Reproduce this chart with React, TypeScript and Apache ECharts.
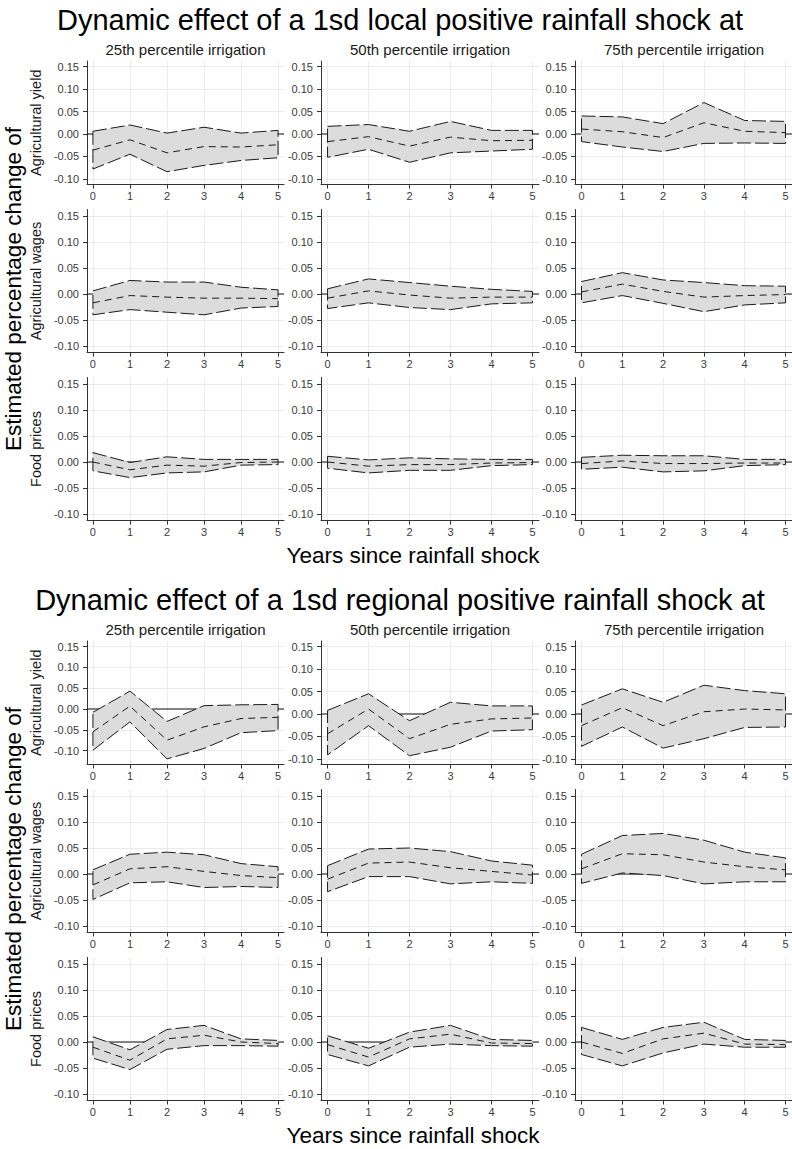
import React, { useEffect, useRef } from "react";
import * as echarts from "echarts";

// ---------- categories / labels ----------
const years = [0, 1, 2, 3, 4, 5];
const yTickValues = [-0.1, -0.05, 0, 0.05, 0.1, 0.15];
const percentiles = ["25th percentile irrigation", "50th percentile irrigation", "75th percentile irrigation"];
const outcomes = ["Agricultural yield", "Agricultural wages", "Food prices"];
const sectionTitles = [
  "Dynamic effect of a 1sd local positive rainfall shock at",
  "Dynamic effect of a 1sd regional positive rainfall shock at",
];
const yAxisTitle = "Estimated percentage change of";
const xAxisTitle = "Years since rainfall shock";

// ---------- values: one row per year, [lower bound, estimate, upper bound] ----------
const localYield25 = [[-0.078, -0.036, 0.006], [-0.045, -0.013, 0.020], [-0.084, -0.042, 0.002], [-0.070, -0.028, 0.015], [-0.059, -0.029, 0.002], [-0.053, -0.024, 0.008]];
const localYield50 = [[-0.052, -0.017, 0.017], [-0.034, -0.006, 0.021], [-0.063, -0.027, 0.006], [-0.042, -0.007, 0.028], [-0.038, -0.015, 0.008], [-0.034, -0.014, 0.008]];
const localYield75 = [[-0.017, 0.011, 0.040], [-0.029, 0.005, 0.038], [-0.039, -0.008, 0.023], [-0.021, 0.025, 0.070], [-0.020, 0.006, 0.030], [-0.021, 0.003, 0.028]];
const localWages25 = [[-0.040, -0.017, 0.006], [-0.030, -0.003, 0.026], [-0.035, -0.006, 0.023], [-0.040, -0.008, 0.023], [-0.027, -0.008, 0.013], [-0.024, -0.009, 0.008]];
const localWages50 = [[-0.028, -0.008, 0.010], [-0.017, 0.006, 0.029], [-0.026, -0.002, 0.022], [-0.030, -0.008, 0.015], [-0.019, -0.006, 0.009], [-0.017, -0.006, 0.005]];
const localWages75 = [[-0.017, 0.004, 0.024], [-0.003, 0.019, 0.041], [-0.018, 0.005, 0.027], [-0.034, -0.006, 0.022], [-0.021, -0.003, 0.016], [-0.017, -0.001, 0.015]];
const localFood25 = [[-0.017, 0.000, 0.018], [-0.030, -0.015, -0.001], [-0.021, -0.006, 0.010], [-0.019, -0.008, 0.005], [-0.006, -0.001, 0.005], [-0.005, 0.000, 0.005]];
const localFood50 = [[-0.012, 0.000, 0.011], [-0.021, -0.008, 0.004], [-0.016, -0.005, 0.008], [-0.016, -0.005, 0.006], [-0.007, -0.002, 0.005], [-0.005, -0.001, 0.005]];
const localFood75 = [[-0.014, -0.003, 0.009], [-0.010, 0.002, 0.013], [-0.019, -0.003, 0.012], [-0.017, -0.003, 0.012], [-0.007, -0.002, 0.005], [-0.005, -0.002, 0.005]];

const regionalYield25 = [[-0.099, -0.055, -0.008], [-0.031, 0.007, 0.043], [-0.120, -0.075, -0.030], [-0.095, -0.043, 0.008], [-0.057, -0.023, 0.010], [-0.052, -0.020, 0.011]];
const regionalYield50 = [[-0.091, -0.044, 0.008], [-0.026, 0.011, 0.045], [-0.093, -0.055, -0.015], [-0.074, -0.023, 0.026], [-0.038, -0.011, 0.018], [-0.035, -0.009, 0.018]];
const regionalYield75 = [[-0.072, -0.026, 0.020], [-0.029, 0.014, 0.056], [-0.076, -0.026, 0.026], [-0.055, 0.005, 0.064], [-0.030, 0.011, 0.052], [-0.029, 0.009, 0.045]];
const regionalWages25 = [[-0.049, -0.021, 0.008], [-0.017, 0.010, 0.038], [-0.015, 0.014, 0.042], [-0.026, 0.005, 0.037], [-0.024, -0.003, 0.020], [-0.026, -0.007, 0.014]];
const regionalWages50 = [[-0.034, -0.010, 0.016], [-0.005, 0.021, 0.048], [-0.005, 0.023, 0.050], [-0.019, 0.012, 0.043], [-0.015, 0.005, 0.025], [-0.018, -0.002, 0.017]];
const regionalWages75 = [[-0.018, 0.010, 0.038], [0.002, 0.039, 0.074], [-0.003, 0.037, 0.078], [-0.019, 0.023, 0.065], [-0.015, 0.014, 0.042], [-0.015, 0.008, 0.031]];
const regionalFood25 = [[-0.031, -0.010, 0.010], [-0.053, -0.035, -0.015], [-0.014, 0.006, 0.024], [-0.007, 0.013, 0.032], [-0.007, 0.000, 0.006], [-0.008, -0.003, 0.003]];
const regionalFood50 = [[-0.024, -0.005, 0.012], [-0.046, -0.029, -0.012], [-0.010, 0.006, 0.019], [-0.004, 0.015, 0.032], [-0.007, -0.002, 0.005], [-0.008, -0.003, 0.003]];
const regionalFood75 = [[-0.024, 0.000, 0.028], [-0.046, -0.022, 0.005], [-0.021, 0.006, 0.028], [-0.004, 0.017, 0.038], [-0.010, -0.004, 0.005], [-0.010, -0.005, 0.003]];

const sections = [
  [
    [localYield25, localYield50, localYield75],
    [localWages25, localWages50, localWages75],
    [localFood25, localFood50, localFood75],
  ],
  [
    [regionalYield25, regionalYield50, regionalYield75],
    [regionalWages25, regionalWages50, regionalWages75],
    [regionalFood25, regionalFood50, regionalFood75],
  ],
];

// ---------- layout ----------
const W = 792;
const H = 1149;
const FONT = '"Liberation Sans", Arial, Helvetica, sans-serif';
const colLeft = [87, 321, 575];
const colWidth = [197, 218, 218];
const rowTop = [61, 209.5, 377.5];
const rowHeight = [123.5, 143, 143];
const sectionOffset = 580;
const xMin = -0.16;
const xMax = 5.16;

function buildOption() {
  const grids: any[] = [];
  const xAxes: any[] = [];
  const yAxes: any[] = [];
  const series: any[] = [];
  const graphics: any[] = [];
  let idx = 0;

  sections.forEach((section, s) => {
    const off = s * sectionOffset;
    section.forEach((row, r) => {
      row.forEach((rows, c) => {
        const lows = rows.map((v) => v[0]);
        const highs = rows.map((v) => v[2]);
        const lo = Math.min(-0.1, ...lows);
        const hi = Math.max(0.15, ...highs);
        const pad = (hi - lo) * 0.05;
        grids.push({
          left: colLeft[c],
          top: rowTop[r] + off,
          width: colWidth[c],
          height: rowHeight[r],
          containLabel: false,
        });
        xAxes.push({
          type: "value",
          gridIndex: idx,
          min: xMin,
          max: xMax,
          axisLine: { show: true, onZero: false, lineStyle: { color: "#333", width: 1 } },
          axisTick: { show: true, length: 4, customValues: years, lineStyle: { color: "#333" } },
          axisLabel: {
            show: true,
            customValues: years,
            margin: 6,
            fontSize: 11,
            color: "#3a3a3a",
            fontFamily: FONT,
            formatter: (v: number) => String(Math.round(v)),
          },
          splitLine: { show: true, lineStyle: { color: "#ebebeb", width: 1 } },
        });
        yAxes.push({
          type: "value",
          gridIndex: idx,
          min: lo - pad,
          max: hi + pad,
          axisLine: { show: true, onZero: false, lineStyle: { color: "#333", width: 1 } },
          axisTick: { show: true, length: 4, customValues: yTickValues, lineStyle: { color: "#333" } },
          axisLabel: {
            show: true,
            customValues: yTickValues,
            margin: 8,
            fontSize: 11,
            color: "#3a3a3a",
            fontFamily: FONT,
            formatter: (v: number) => (Math.abs(v) < 1e-9 ? "0.00" : v.toFixed(2)),
          },
          splitLine: { show: true, lineStyle: { color: "#ebebeb", width: 1 } },
        });

        const data = rows.map((v, i) => [years[i], v[0], v[1], v[2]]);
        series.push({
          type: "custom",
          xAxisIndex: idx,
          yAxisIndex: idx,
          silent: true,
          clip: false,
          encode: { x: 0, y: [1, 3] },
          data,
          renderItem: (params: any, api: any) => {
            if (params.dataIndex !== 0) return null;
            const cs = params.coordSys;
            const zeroY = api.coord([0, 0])[1];
            const pts: number[][] = [];
            rows.forEach((v, i) => pts.push(api.coord([years[i], v[2]])));
            for (let i = rows.length - 1; i >= 0; i--) pts.push(api.coord([years[i], rows[i][0]]));
            return {
              type: "group",
              children: [
                {
                  type: "line",
                  shape: { x1: cs.x, y1: zeroY, x2: cs.x + cs.width, y2: zeroY },
                  style: { stroke: "#111", lineWidth: 1 },
                },
                {
                  type: "polygon",
                  shape: { points: pts },
                  style: { fill: "#dcdcdc", stroke: "#1a1a1a", lineWidth: 1, lineDash: [14, 4] },
                },
              ],
            };
          },
        });
        series.push({
          type: "line",
          xAxisIndex: idx,
          yAxisIndex: idx,
          silent: true,
          symbol: "none",
          showSymbol: false,
          data: rows.map((v, i) => [years[i], v[1]]),
          lineStyle: { color: "#1a1a1a", width: 1, type: [7, 5] },
        });
        idx++;
      });
    });

    // texts
    graphics.push({
      type: "text",
      x: 400,
      y: 20 + off,
      style: {
        text: sectionTitles[s],
        fill: "#000",
        font: `29px ${FONT}`,
        textAlign: "center",
        textVerticalAlign: "middle",
        align: "center",
        verticalAlign: "middle",
      },
    });
    percentiles.forEach((p, c) => {
      graphics.push({
        type: "text",
        x: colLeft[c] + colWidth[c] / 2,
        y: 49 + off,
        style: {
          text: p,
          fill: "#1a1a1a",
          font: `15px ${FONT}`,
          textAlign: "center",
          textVerticalAlign: "middle",
          align: "center",
          verticalAlign: "middle",
        },
      });
    });
    outcomes.forEach((o, r) => {
      graphics.push({
        type: "text",
        x: 36,
        y: rowTop[r] + rowHeight[r] / 2 + off,
        rotation: Math.PI / 2,
        style: {
          text: o,
          fill: "#1a1a1a",
          font: `14.5px ${FONT}`,
          textAlign: "center",
          textVerticalAlign: "middle",
          align: "center",
          verticalAlign: "middle",
        },
      });
    });
    graphics.push({
      type: "text",
      x: 13,
      y: 289 + off,
      rotation: Math.PI / 2,
      style: {
        text: yAxisTitle,
        fill: "#000",
        font: `22.5px ${FONT}`,
        textAlign: "center",
        textVerticalAlign: "middle",
        align: "center",
        verticalAlign: "middle",
      },
    });
    graphics.push({
      type: "text",
      x: 413,
      y: 555 + off,
      style: {
        text: xAxisTitle,
        fill: "#000",
        font: `22.5px ${FONT}`,
        textAlign: "center",
        textVerticalAlign: "middle",
        align: "center",
        verticalAlign: "middle",
      },
    });
  });

  return {
    animation: false,
    backgroundColor: "#ffffff",
    textStyle: { fontFamily: FONT },
    grid: grids,
    xAxis: xAxes,
    yAxis: yAxes,
    series,
    graphic: { elements: graphics },
  };
}

export default function App() {
  const ref = useRef<HTMLDivElement>(null);
  useEffect(() => {
    if (!ref.current) return;
    const chart = echarts.init(ref.current, undefined, { renderer: "svg", width: W, height: H });
    chart.setOption(buildOption() as any);
    return () => chart.dispose();
  }, []);
  return (
    <div
      ref={ref}
      style={{ position: "absolute", left: 0, top: 0, width: W, height: H, background: "#fff" }}
    />
  );
}
